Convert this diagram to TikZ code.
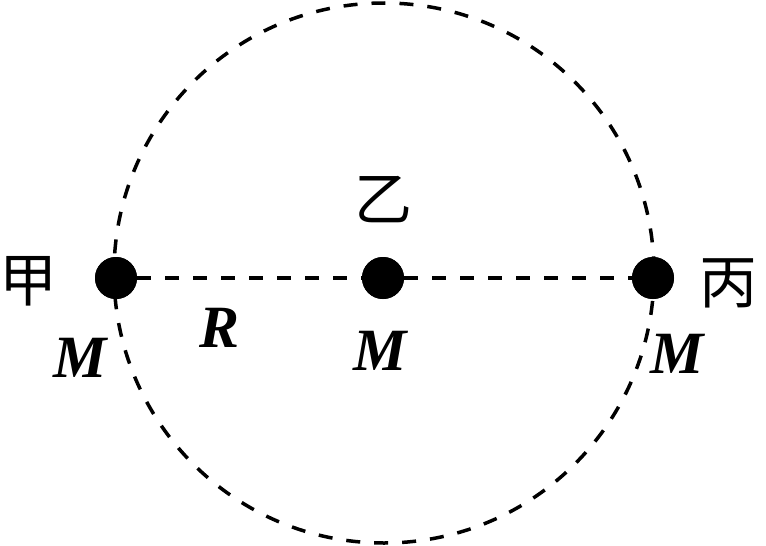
\documentclass[tikz,border=0pt]{standalone}
\usepackage{fontspec}
\setmainfont{Liberation Serif}
\newfontfamily\cjk{Noto Sans CJK SC}
\begin{document}
\begin{tikzpicture}[x=1pt,y=-1pt,
  dline/.style={line width=3.5pt,dash pattern=on 14pt off 14pt},
  mass/.style={circle,fill=black,minimum size=42pt,inner sep=0pt},
  lab/.style={font=\fontsize{60}{60}\selectfont\bfseries\itshape,inner sep=0pt},
  han/.style={font=\fontsize{58}{58}\cjk,inner sep=0pt}]
\useasboundingbox (0,0) rectangle (766,546);
\coordinate (O) at (384,273);
\draw[dline] (O) circle[radius=270];
\node[mass] (a) at (116,278) {};
\node[mass] (b) at (383,278) {};
\node[mass] (c) at (653,278) {};
\draw[dline] (a) -- (b) -- (c);
\node[mass] at (a) {};
\node[mass] at (b) {};
\node[mass] at (c) {};
\node[han] (ja) at (28,281) {甲};
\node[han] (yi) at (383,200) {乙};
\node[han] (bi) at (728,283) {丙};
\node[lab] (m1) at (80,358) {M};
\node[lab] (m2) at (380,351) {M};
\node[lab] (m3) at (677,354) {M};
\node[lab] (r) at (220,328) {R};
\end{tikzpicture}
\end{document}
